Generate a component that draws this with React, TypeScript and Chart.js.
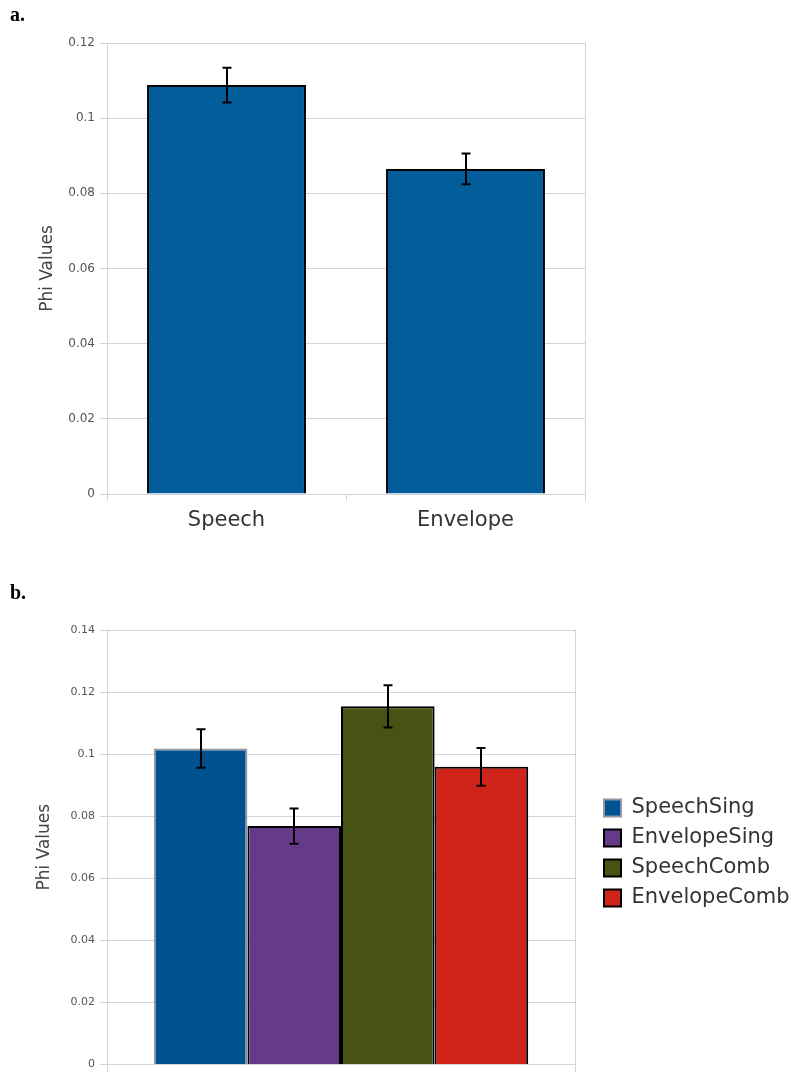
import React, { useEffect, useRef } from 'react';
import { Chart, registerables } from 'chart.js';
Chart.register(...registerables);

// ---- Panel a data ----
const categoriesA = ['Speech', 'Envelope'];
const valuesA = [0.1088, 0.0865];
const errorsA = [0.0046, 0.0041];
const yTickLabelsA = ['0', '0.02', '0.04', '0.06', '0.08', '0.1', '0.12'];

// ---- Panel b data ----
const categoriesB = [''];
const seriesB = ['SpeechSing', 'EnvelopeSing', 'SpeechComb', 'EnvelopeComb'];
const valuesB = [0.1018, 0.0768, 0.1154, 0.0959];
const errorsB = [0.0062, 0.0057, 0.0068, 0.0061];
const yTickLabelsB = ['0', '0.02', '0.04', '0.06', '0.08', '0.1', '0.12', '0.14'];
const colorsB = ['#00518f', '#653b89', '#465312', '#d0231a'];
const bordersB = ['#8f98a3', '#000000', '#000000', '#000000'];

const FONT = 'DejaVu Sans';
const GRID = '#d4d4d4';

function makeErrorBars(errs: number[][]) {
  return {
    id: 'errorBars',
    afterDatasetsDraw(chart: any) {
      const ctx = chart.ctx;
      const y = chart.scales.y;
      ctx.save();
      ctx.strokeStyle = '#000';
      ctx.lineWidth = 2;
      chart.data.datasets.forEach((ds: any, i: number) => {
        const meta = chart.getDatasetMeta(i);
        meta.data.forEach((el: any, j: number) => {
          const v = ds.data[j] as number;
          const e = errs[i][j];
          const x = Math.round(el.x);
          const t = y.getPixelForValue(v + e);
          const b = y.getPixelForValue(v - e);
          ctx.beginPath();
          ctx.moveTo(x, t);
          ctx.lineTo(x, b);
          ctx.moveTo(x - 4.5, t);
          ctx.lineTo(x + 4.5, t);
          ctx.moveTo(x - 4.5, b);
          ctx.lineTo(x + 4.5, b);
          ctx.stroke();
        });
      });
      ctx.restore();
    },
  };
}

const labelFrom = (arr: string[]) => (v: any) => {
  const f = arr.find((l) => Math.abs(parseFloat(l) - Number(v)) < 1e-9);
  return f ?? '';
};

export default function App() {
  const refA = useRef<HTMLCanvasElement>(null);
  const refB = useRef<HTMLCanvasElement>(null);

  useEffect(() => {
    const chartA = new Chart(refA.current as HTMLCanvasElement, {
      type: 'bar',
      data: {
        labels: categoriesA,
        datasets: [
          {
            label: 'Phi',
            data: valuesA,
            yAxisID: 'y',
            backgroundColor: '#035d9b',
            borderColor: '#000000',
            borderWidth: 2,
            barPercentage: 0.665,
            categoryPercentage: 1,
          },
        ],
      },
      options: {
        animation: false,
        responsive: false,
        devicePixelRatio: 1,
        layout: { padding: { top: 43, right: 15, left: 0, bottom: 0 } },
        plugins: { legend: { display: false }, tooltip: { enabled: false } },
        scales: {
          x: {
            type: 'category',
            offset: true,
            grid: { offset: true, drawOnChartArea: false, tickLength: 7, color: GRID },
            border: { color: GRID },
            ticks: { font: { family: FONT, size: 21 }, color: '#333', padding: 7 },
            afterFit: (s: any) => {
              s.height = 51;
            },
          },
          y: {
            type: 'linear',
            min: 0,
            max: 0.12,
            ticks: {
              stepSize: 0.02,
              callback: labelFrom(yTickLabelsA),
              font: { family: FONT, size: 12 },
              color: '#555',
              padding: 5,
            },
            grid: { color: GRID, tickLength: 7 },
            border: { color: GRID },
            title: {
              display: true,
              text: 'Phi Values',
              font: { family: FONT, size: 17 },
              color: '#444',
              padding: { top: 37, bottom: 0 },
            },
            afterFit: (s: any) => {
              s.width = 107;
            },
          },
          yR: {
            type: 'linear',
            position: 'right',
            display: true,
            grid: { display: false },
            ticks: { display: false },
            border: { display: true, color: GRID },
            afterFit: (s: any) => {
              s.width = 0;
            },
          },
        },
      } as any,
      plugins: [makeErrorBars([errorsA])],
    });

    const chartB = new Chart(refB.current as HTMLCanvasElement, {
      type: 'bar',
      data: {
        labels: categoriesB,
        datasets: seriesB.map((name, i) => ({
          label: name,
          data: [valuesB[i]],
          yAxisID: 'y',
          backgroundColor: colorsB[i],
          borderColor: bordersB[i],
          borderWidth: 2,
          barPercentage: 1,
          categoryPercentage: 0.8,
        })),
      },
      options: {
        animation: false,
        responsive: false,
        devicePixelRatio: 1,
        layout: { padding: { top: 70, right: 0, left: 0, bottom: 0 } },
        plugins: {
          tooltip: { enabled: false },
          legend: {
            display: true,
            position: 'right',
            maxWidth: 196,
            labels: {
              font: { family: FONT, size: 21 },
              color: '#333',
              boxWidth: 17,
              boxHeight: 17,
              padding: 9,
            },
          },
        },
        scales: {
          x: {
            type: 'category',
            offset: true,
            grid: { offset: true, drawOnChartArea: false, tickLength: 8, color: GRID },
            border: { color: GRID },
            ticks: { display: false },
            afterFit: (s: any) => {
              s.height = 8;
            },
          },
          y: {
            type: 'linear',
            min: 0,
            max: 0.14,
            ticks: {
              stepSize: 0.02,
              callback: labelFrom(yTickLabelsB),
              font: { family: FONT, size: 11 },
              color: '#555',
              padding: 5,
            },
            grid: { color: GRID, tickLength: 7 },
            border: { color: GRID },
            title: {
              display: true,
              text: 'Phi Values',
              font: { family: FONT, size: 17 },
              color: '#444',
              padding: { top: 34, bottom: 0 },
            },
            afterFit: (s: any) => {
              s.width = 107;
            },
          },
          yR: {
            type: 'linear',
            position: 'right',
            display: true,
            grid: { display: false },
            ticks: { display: false },
            border: { display: true, color: GRID },
            afterFit: (s: any) => {
              s.width = 20;
            },
          },
        },
      } as any,
      plugins: [makeErrorBars(errorsB.map((e) => [e]))],
    });

    return () => {
      chartA.destroy();
      chartB.destroy();
    };
  }, []);

  const panelLabel: React.CSSProperties = {
    position: 'absolute',
    left: 10,
    font: 'bold 20px "Liberation Serif"',
    lineHeight: '20px',
    color: '#000',
  };

  return (
    <div style={{ position: 'absolute', left: 0, top: 0, width: 791, height: 1072, background: '#fff', overflow: 'hidden' }}>
      <canvas ref={refA} width={600} height={545} style={{ position: 'absolute', left: 0, top: 0 }} />
      <canvas ref={refB} width={791} height={516} style={{ position: 'absolute', left: 0, top: 560 }} />
      <div style={{ ...panelLabel, top: 4 }}>a.</div>
      <div style={{ ...panelLabel, top: 582 }}>b.</div>
    </div>
  );
}
